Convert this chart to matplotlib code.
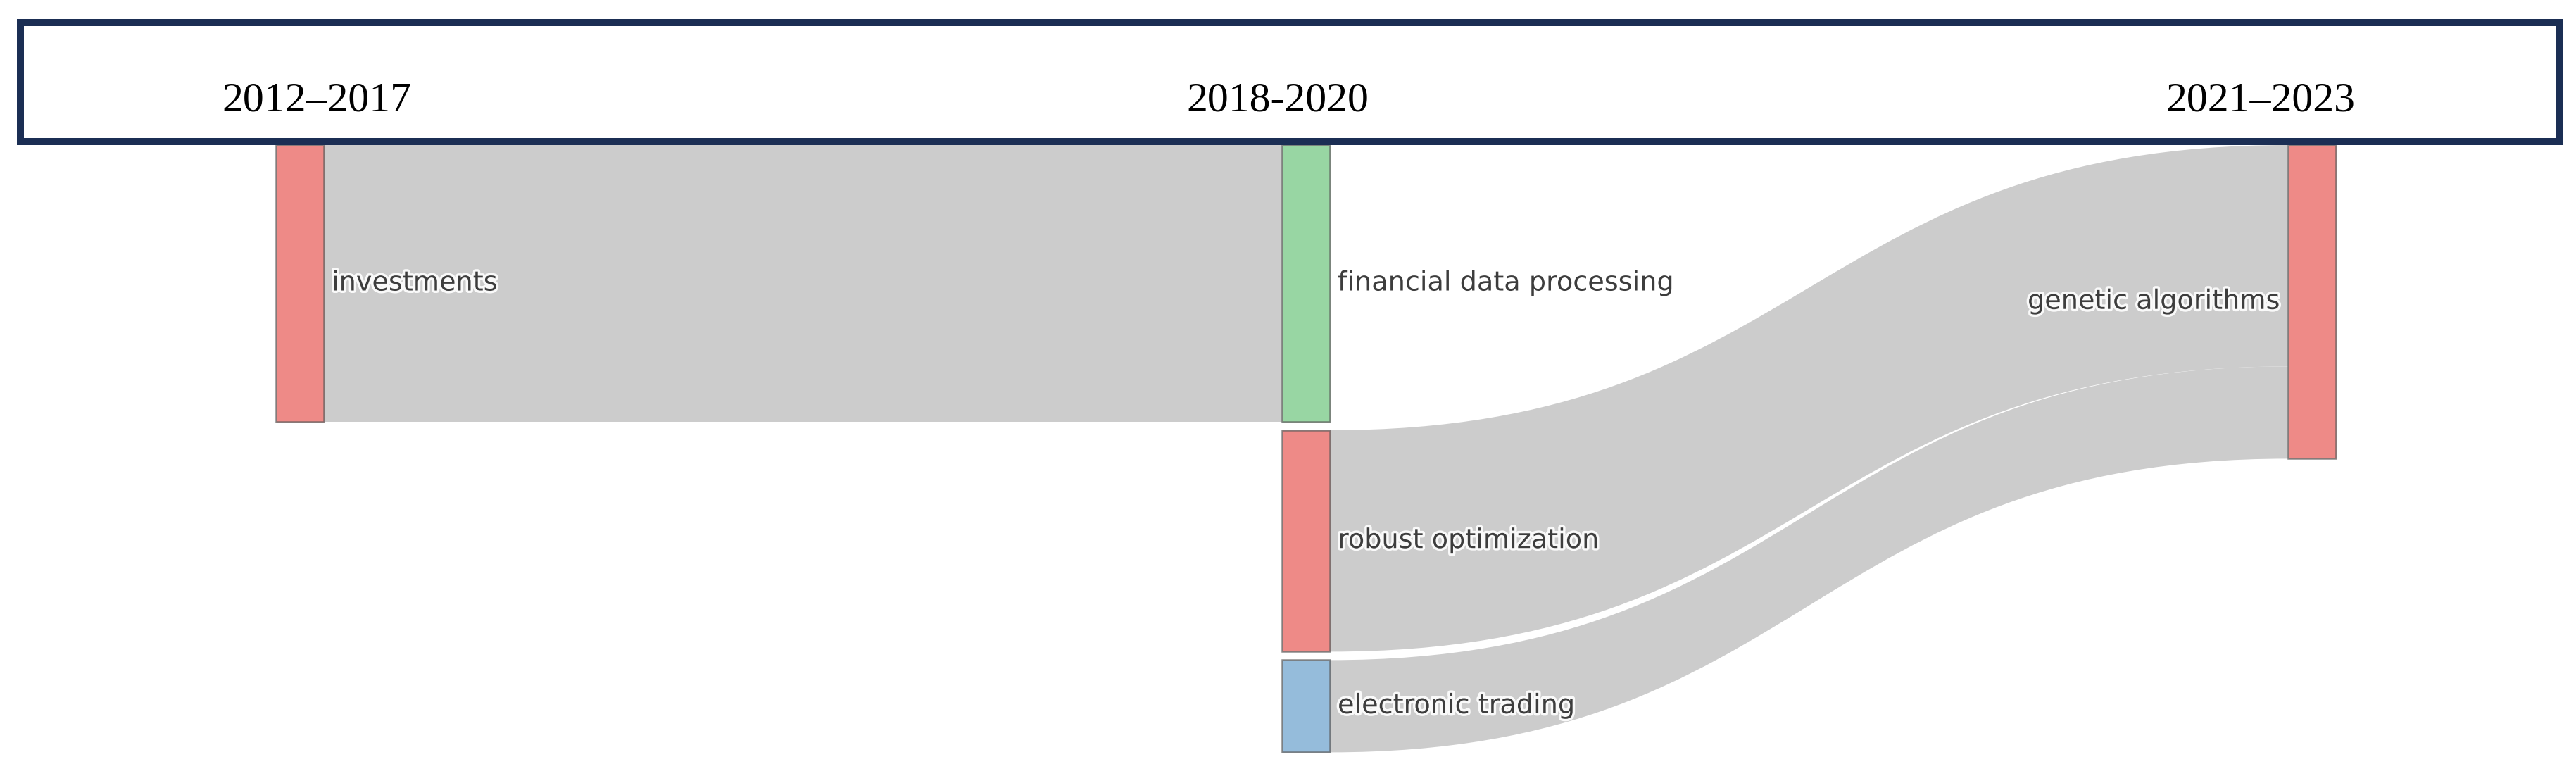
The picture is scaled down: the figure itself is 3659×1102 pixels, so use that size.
import matplotlib
matplotlib.use("Agg")
import matplotlib.pyplot as plt
import matplotlib.patheffects as pe
from matplotlib.path import Path
from matplotlib.patches import PathPatch, Rectangle

# stages shown in the header band
periods = ["2012–2017", "2018-2020", "2021–2023"]

# sankey nodes
node_names = ["investments", "financial data processing", "robust optimization",
              "electronic trading", "genetic algorithms"]
node_column = [0, 1, 1, 1, 2]
node_colors = ["#ee8a87", "#98d6a3", "#ee8a87", "#95bcdb", "#ee8a87"]

# sankey links
link_source = [0, 2, 3]
link_target = [1, 4, 4]
link_value = [15, 12, 5]

# layout (figure pixels)
W, H = 3659, 1102
col_left_px = 392       # left edge of first column
col_step_px = 1429      # distance between columns
node_w_px = 68
top_px = 206
unit_px = 26.2          # pixels per flow unit
pad_px = 12
header_x_px = [450, 1815, 3211]
header_base_px = 157

fig = plt.figure(figsize=(W / 100, H / 100), dpi=100)
ax = fig.add_axes([0, 0, 1, 1])
ax.set_xlim(-col_left_px / col_step_px, (W - col_left_px) / col_step_px)
ax.set_ylim((H - top_px) / unit_px, -top_px / unit_px)
ax.axis("off")

node_w = node_w_px / col_step_px
pad = pad_px / unit_px

# node sizes = max(inflow, outflow)
n = len(node_names)
inflow = [0] * n
outflow = [0] * n
for s, t, v in zip(link_source, link_target, link_value):
    outflow[s] += v
    inflow[t] += v
node_size = [max(a, b) for a, b in zip(inflow, outflow)]

# stack nodes in each column
node_y = [0.0] * n
col_fill = {}
for i in range(n):
    c = node_column[i]
    y = col_fill.get(c, 0.0)
    node_y[i] = y
    col_fill[c] = y + node_size[i] + pad

# links
out_used = [0.0] * n
in_used = [0.0] * n
for s, t, v in zip(link_source, link_target, link_value):
    xs = node_column[s] + node_w
    xt = node_column[t]
    sy0 = node_y[s] + out_used[s]
    ty0 = node_y[t] + in_used[t]
    out_used[s] += v
    in_used[t] += v
    xm = (xs + xt) / 2
    verts = [(xs, sy0), (xm, sy0), (xm, ty0), (xt, ty0),
             (xt, ty0 + v), (xm, ty0 + v), (xm, sy0 + v), (xs, sy0 + v), (xs, sy0)]
    codes = [Path.MOVETO, Path.CURVE4, Path.CURVE4, Path.CURVE4,
             Path.LINETO, Path.CURVE4, Path.CURVE4, Path.CURVE4, Path.CLOSEPOLY]
    ax.add_patch(PathPatch(Path(verts, codes), facecolor="#cccccc", edgecolor="none", zorder=1))

# nodes and labels
halo = [pe.withStroke(linewidth=5, foreground="white", alpha=0.9)]
gap = 11 / col_step_px
for i in range(n):
    c = node_column[i]
    ax.add_patch(Rectangle((c, node_y[i]), node_w, node_size[i], facecolor=node_colors[i],
                           edgecolor=(0.35, 0.35, 0.35, 0.7), linewidth=1.8, zorder=2))
    yc = node_y[i] + node_size[i] / 2
    if c == max(node_column):
        ax.text(c - gap, yc, node_names[i], ha="right", va="center", fontsize=27.5,
                family="DejaVu Sans", color="#3d3d3d", path_effects=halo, zorder=3)
    else:
        ax.text(c + node_w + gap, yc, node_names[i], ha="left", va="center", fontsize=27.5,
                family="DejaVu Sans", color="#3d3d3d", path_effects=halo, zorder=3)

# header band
fig.patches.append(Rectangle((29 / W, 1 - 200.5 / H), (3635.5 - 29) / W, (200.5 - 32) / H,
                             transform=fig.transFigure, fill=False, edgecolor="#1b2e54",
                             linewidth=7.2, zorder=5))
for label, xp in zip(periods, header_x_px):
    fig.text(xp / W, 1 - header_base_px / H, label, ha="center", va="baseline",
             fontsize=43, family="Liberation Serif", color="black")

fig.savefig("out.png", dpi=100, facecolor="white")
